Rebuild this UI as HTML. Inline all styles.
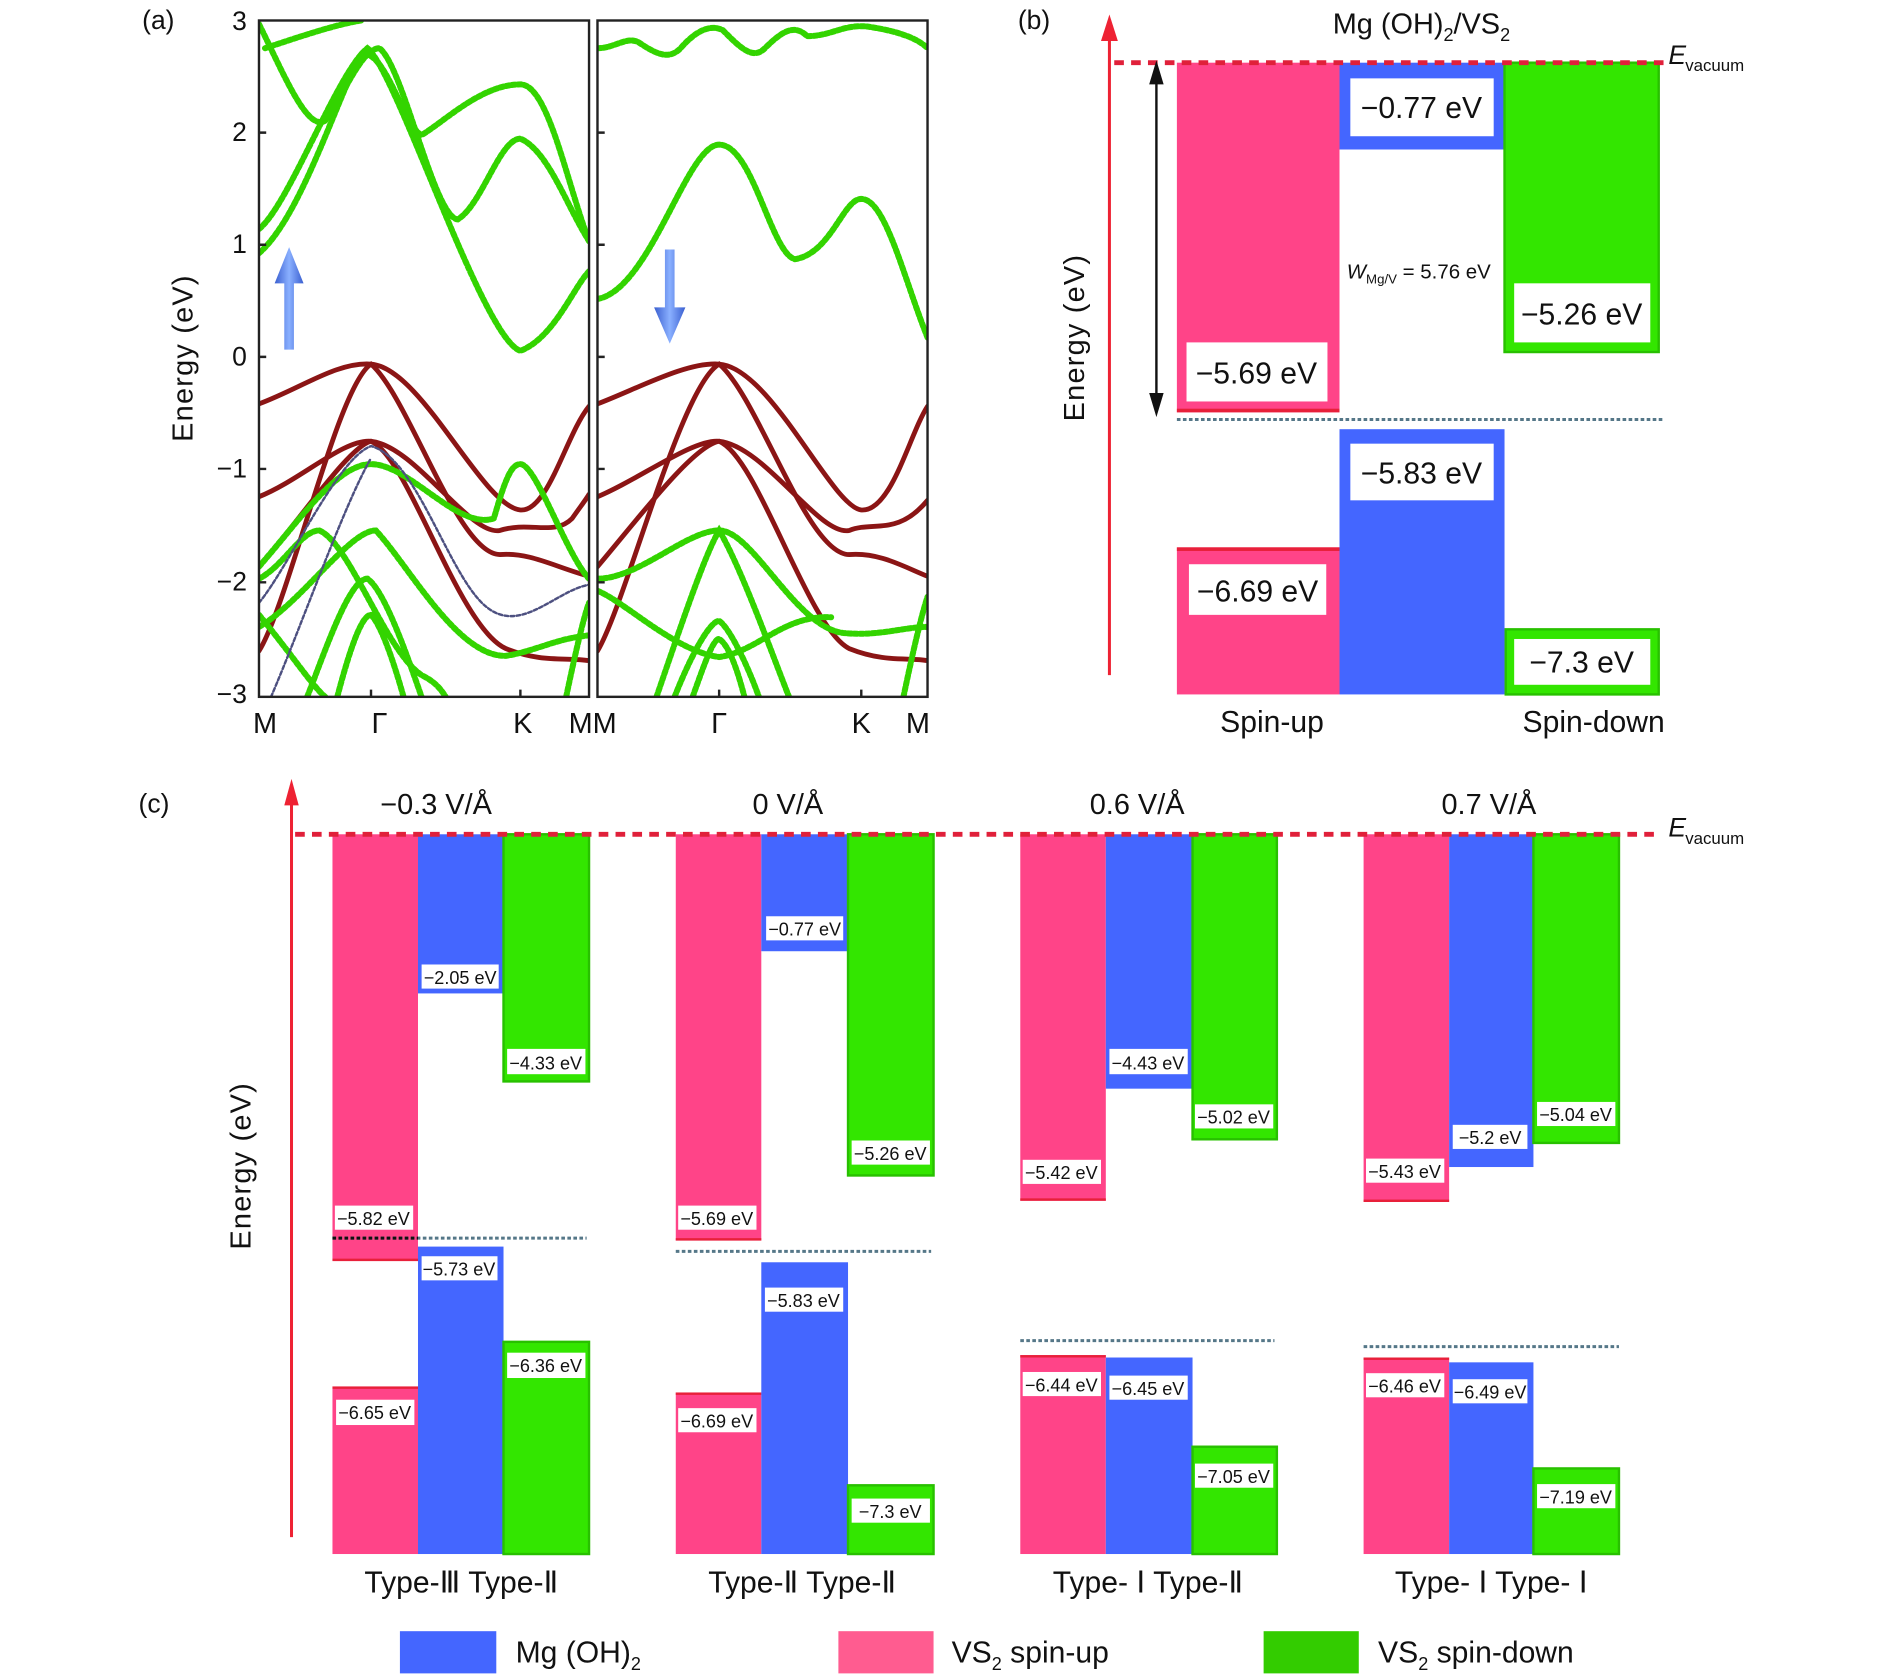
<!DOCTYPE html>
<html><head><meta charset="utf-8"><style>
html,body{margin:0;padding:0;background:#fff}
svg{display:block}
text{font-family:"Liberation Sans",sans-serif;fill:#111}
</style></head><body>
<svg width="1890" height="1677" viewBox="0 0 1569 1391" preserveAspectRatio="none" xmlns="http://www.w3.org/2000/svg">
<defs>
<clipPath id="cl"><rect x="215" y="17" width="274" height="561"/></clipPath>
<clipPath id="cr"><rect x="496" y="17" width="274" height="561"/></clipPath>
<linearGradient id="bg" x1="0" x2="1"><stop offset="0" stop-color="#3a5fd0"/><stop offset="0.5" stop-color="#8ab0ff"/><stop offset="1" stop-color="#3a5fd0"/></linearGradient>
</defs>

<!-- Panel (a) -->
<text x="118" y="24" font-size="22">(a)</text>
<g font-size="22" text-anchor="end">
<text x="205" y="25">3</text><text x="205" y="117">2</text><text x="205" y="210">1</text><text x="205" y="303">0</text>
<text x="205" y="396">−1</text><text x="205" y="490">−2</text><text x="205" y="583">−3</text>
</g>
<text transform="translate(160,297) rotate(-90)" font-size="24" text-anchor="middle" letter-spacing="1">Energy (eV)</text>
<g font-size="24" text-anchor="middle">
<text x="220" y="608">M</text><text x="315" y="608">Γ</text><text x="434" y="608">K</text><text x="492" y="608">MM</text>
<text x="597" y="608">Γ</text><text x="715" y="608">K</text><text x="762" y="608">M</text>
</g>
<g clip-path="url(#cl)" fill="none" stroke-linecap="round">
<g stroke="#8b1515" stroke-width="4">
<path d="M215,335 C250,322 280,300 308,302 C350,305 400,420 432,423 C455,425 470,360 489,337"/>
<path d="M215,412 C250,398 285,364 308,366 C345,370 390,445 415,440 C440,432 460,445 475,430 C482,420 486,415 489,410"/>
<path d="M215,540 C240,500 280,320 308,302 C340,330 380,460 415,460 C440,458 460,470 489,478"/>
<path d="M215,470 C250,430 290,370 308,366 C340,380 380,520 420,538 C450,550 470,545 489,548"/>
</g>
<g stroke="#33d400" stroke-width="5" stroke-dasharray="3 2">
<path d="M215,190 C240,170 280,60 305,40 C330,60 400,280 432,291 C460,280 475,240 489,225"/>
<path d="M215,210 C250,180 280,80 300,45 C320,40 335,105 350,112 C370,100 400,70 432,70 C455,70 470,150 489,200"/>
<path d="M215,20 C235,60 255,110 270,100 C285,80 300,40 315,40 C335,55 360,180 380,182 C400,170 415,115 432,115 C455,125 470,170 489,200"/>
<path d="M220,40 C250,30 280,20 300,17"/>
<path d="M215,470 C250,430 280,385 308,385 C340,385 380,440 410,430 C420,395 425,385 432,385 C445,385 470,460 489,480"/>
<path d="M215,480 C235,470 250,440 265,440 C290,450 320,540 350,560 C360,565 365,570 370,578"/>
<path d="M215,520 C250,500 290,440 312,440 C340,470 380,545 420,544 C445,540 460,530 489,527"/>
<path d="M215,510 C240,540 260,570 270,578"/>
<path d="M255,578 C270,540 290,480 305,480 C320,490 340,550 350,578"/>
<path d="M280,578 C290,540 300,510 308,510 C318,520 330,560 335,578"/>
<path d="M470,578 C478,540 485,510 489,500"/>
</g>
<g stroke="#4d5080" stroke-width="2" stroke-dasharray="3 2">
<path d="M215,500 C240,470 280,380 308,370 C345,380 370,470 400,500 C430,530 460,490 489,485"/>
<path d="M225,578 C250,520 285,420 308,380"/>
</g>
</g>
<g clip-path="url(#cr)" fill="none" stroke-linecap="round">
<g stroke="#8b1515" stroke-width="4">
<path d="M496,335 C530,322 570,300 597,302 C640,305 690,420 715,423 C740,425 755,360 770,337"/>
<path d="M496,412 C530,398 575,364 597,366 C635,370 680,445 705,440 C725,432 745,445 770,415"/>
<path d="M496,540 C520,500 565,320 597,302 C630,330 670,460 705,460 C730,458 750,470 770,478"/>
<path d="M496,470 C530,430 575,370 597,366 C630,380 670,520 705,538 C735,550 755,545 770,548"/>
</g>
<g stroke="#33d400" stroke-width="5" stroke-dasharray="3 2">
<path d="M496,248 C540,240 570,120 597,120 C625,120 640,210 660,215 C690,210 700,165 715,165 C735,165 750,230 770,280"/>
<path d="M496,40 C510,40 520,30 530,35 C545,45 555,50 565,40 C578,25 590,20 600,25 C615,40 625,50 635,40 C650,25 660,20 670,30 C690,30 700,20 720,22 C740,25 760,30 770,40"/>
<path d="M496,480 C530,480 570,440 597,440 C625,440 660,520 700,525 C730,528 750,520 770,520"/>
<path d="M496,490 C520,500 560,540 597,545 C630,540 650,510 690,512"/>
<path d="M545,578 C565,520 585,460 597,440 C615,470 640,540 655,578"/>
<path d="M560,578 C575,540 590,515 597,515 C605,520 620,550 630,578"/>
<path d="M575,578 C585,550 592,530 597,530 C605,535 612,555 618,578"/>
<path d="M750,578 C758,540 765,510 770,495"/>
</g>
</g>
<g fill="none" stroke="#222" stroke-width="2">
<rect x="215" y="17" width="274" height="561"/>
<rect x="496" y="17" width="274" height="561"/>
<path d="M215,110h6M215,203h6M215,296h6M215,389h6M215,483h6M496,110h6M496,203h6M496,296h6M496,389h6M496,483h6M308,578v-6M432,578v-6M597,578v-6M715,578v-6"/>
</g>
<path d="M236,290 V235 H228 L240,205 L252,235 H244 V290 Z" fill="url(#bg)"/>
<path d="M552,207 V255 H543 L556,285 L569,255 H560 V207 Z" fill="url(#bg)"/>

<!-- Panel (b) -->
<text x="845" y="24" font-size="22">(b)</text>
<text x="1180" y="28" font-size="24" text-anchor="middle">Mg (OH)<tspan font-size="15" dy="6">2</tspan><tspan dy="-6">/VS</tspan><tspan font-size="15" dy="6">2</tspan></text>
<line x1="921" y1="560" x2="921" y2="30" stroke="#ee2233" stroke-width="2.5"/>
<path d="M914,34 L921,12 L928,34 Z" fill="#ee2233"/>
<text transform="translate(900,280) rotate(-90)" font-size="24" text-anchor="middle" letter-spacing="1">Energy (eV)</text>
<rect x="977" y="52" width="135" height="290" fill="#ff4488"/>
<rect x="977" y="339" width="135" height="3" fill="#e8203a"/>
<rect x="1112" y="52" width="137" height="72" fill="#4466ff"/>
<rect x="1249" y="52" width="128" height="240" fill="#33e600" stroke="#28c000" stroke-width="2"/>
<rect x="977" y="454" width="135" height="122" fill="#ff4488"/>
<rect x="977" y="454" width="135" height="3" fill="#e8203a"/>
<rect x="1112" y="356" width="137" height="220" fill="#4466ff"/>
<rect x="1250" y="522" width="127" height="54" fill="#33e600" stroke="#28c000" stroke-width="2"/>
<line x1="925" y1="52" x2="1382" y2="52" stroke="#e0203a" stroke-width="4" stroke-dasharray="8 6"/>
<text x="1385" y="53" font-size="22" font-style="italic">E</text><text x="1399" y="59" font-size="14">vacuum</text>
<line x1="977" y1="348" x2="1382" y2="348" stroke="#557788" stroke-width="2.5" stroke-dasharray="3 2"/>
<line x1="960" y1="58" x2="960" y2="338" stroke="#111" stroke-width="2"/>
<path d="M954,70 L960,50 L966,70 Z M954,326 L960,346 L966,326 Z" fill="#111"/>
<text x="1118" y="231" font-size="17"><tspan font-style="italic">W</tspan><tspan font-size="11" dy="4">Mg/V</tspan><tspan dy="-4"> = 5.76 eV</tspan></text>
<g fill="#fff">
<rect x="1121" y="65" width="119" height="48"/><rect x="985" y="284" width="117" height="49"/>
<rect x="1257" y="235" width="113" height="49"/><rect x="1121" y="368" width="119" height="47"/>
<rect x="987" y="468" width="114" height="42"/><rect x="1257" y="530" width="113" height="38"/>
</g>
<g font-size="25" text-anchor="middle">
<text x="1180" y="98">−0.77 eV</text><text x="1043" y="318">−5.69 eV</text>
<text x="1313" y="269">−5.26 eV</text><text x="1180" y="401">−5.83 eV</text>
<text x="1044" y="499">−6.69 eV</text><text x="1313" y="558">−7.3 eV</text>
</g>
<g font-size="25" text-anchor="middle"><text x="1056" y="607">Spin-up</text><text x="1323" y="607">Spin-down</text></g>

<!-- Panel (c) -->
<text x="115" y="674" font-size="22">(c)</text>
<line x1="242" y1="1275" x2="242" y2="665" stroke="#ee2233" stroke-width="2.5"/>
<path d="M236,668 L242,646 L248,668 Z" fill="#ee2233"/>
<text transform="translate(208,967) rotate(-90)" font-size="24" text-anchor="middle" letter-spacing="1">Energy (eV)</text>
<g font-size="24" text-anchor="middle">
<text x="362" y="675">−0.3 V/Å</text><text x="654" y="675">0 V/Å</text><text x="944" y="675">0.6 V/Å</text><text x="1236" y="675">0.7 V/Å</text>
</g>
<g>
<rect x="276" y="692" width="71" height="354" fill="#ff4488"/><rect x="276" y="1044" width="71" height="2" fill="#e8203a"/>
<rect x="347" y="692" width="71" height="132" fill="#4466ff"/>
<rect x="418" y="692" width="71" height="205" fill="#33e600" stroke="#28c000" stroke-width="2"/>
<rect x="276" y="1150" width="71" height="139" fill="#ff4488"/><rect x="276" y="1150" width="71" height="2" fill="#e8203a"/>
<rect x="347" y="1034" width="71" height="255" fill="#4466ff"/>
<rect x="418" y="1113" width="71" height="176" fill="#33e600" stroke="#28c000" stroke-width="2"/>
<rect x="561" y="692" width="71" height="337" fill="#ff4488"/><rect x="561" y="1027" width="71" height="2" fill="#e8203a"/>
<rect x="632" y="692" width="72" height="97" fill="#4466ff"/>
<rect x="704" y="692" width="71" height="283" fill="#33e600" stroke="#28c000" stroke-width="2"/>
<rect x="561" y="1155" width="71" height="134" fill="#ff4488"/><rect x="561" y="1155" width="71" height="2" fill="#e8203a"/>
<rect x="632" y="1047" width="72" height="242" fill="#4466ff"/>
<rect x="704" y="1232" width="71" height="57" fill="#33e600" stroke="#28c000" stroke-width="2"/>
<rect x="847" y="692" width="71" height="304" fill="#ff4488"/><rect x="847" y="994" width="71" height="2" fill="#e8203a"/>
<rect x="918" y="692" width="72" height="211" fill="#4466ff"/>
<rect x="990" y="692" width="70" height="253" fill="#33e600" stroke="#28c000" stroke-width="2"/>
<rect x="847" y="1124" width="71" height="165" fill="#ff4488"/><rect x="847" y="1124" width="71" height="2" fill="#e8203a"/>
<rect x="918" y="1126" width="72" height="163" fill="#4466ff"/>
<rect x="990" y="1200" width="70" height="89" fill="#33e600" stroke="#28c000" stroke-width="2"/>
<rect x="1132" y="692" width="71" height="305" fill="#ff4488"/><rect x="1132" y="995" width="71" height="2" fill="#e8203a"/>
<rect x="1203" y="692" width="70" height="276" fill="#4466ff"/>
<rect x="1273" y="692" width="71" height="256" fill="#33e600" stroke="#28c000" stroke-width="2"/>
<rect x="1132" y="1126" width="71" height="163" fill="#ff4488"/><rect x="1132" y="1126" width="71" height="2" fill="#e8203a"/>
<rect x="1203" y="1130" width="70" height="159" fill="#4466ff"/>
<rect x="1273" y="1218" width="71" height="71" fill="#33e600" stroke="#28c000" stroke-width="2"/>
</g>
<line x1="245" y1="692" x2="1375" y2="692" stroke="#e0203a" stroke-width="4" stroke-dasharray="8 6"/>
<text x="1385" y="694" font-size="22" font-style="italic">E</text><text x="1399" y="700" font-size="14">vacuum</text>
<g stroke="#557788" stroke-width="2.5" stroke-dasharray="3 2">
<line x1="276" y1="1027" x2="487" y2="1027"/><line x1="561" y1="1038" x2="773" y2="1038"/>
<line x1="847" y1="1112" x2="1058" y2="1112"/><line x1="1132" y1="1117" x2="1344" y2="1117"/>
</g>
<line x1="276" y1="1027" x2="347" y2="1027" stroke="#111" stroke-width="2.5" stroke-dasharray="3 2"/>
<g fill="#fff">
<rect x="278" y="1000" width="65" height="20"/><rect x="350" y="800" width="64" height="20"/><rect x="421" y="870" width="65" height="21"/>
<rect x="350" y="1042" width="63" height="20"/><rect x="421" y="1122" width="65" height="21"/><rect x="279" y="1161" width="65" height="21"/>
<rect x="563" y="1000" width="65" height="20"/><rect x="636" y="760" width="64" height="20"/><rect x="707" y="946" width="65" height="20"/>
<rect x="635" y="1068" width="65" height="20"/><rect x="563" y="1168" width="65" height="20"/><rect x="707" y="1243" width="65" height="20"/>
<rect x="849" y="962" width="65" height="20"/><rect x="921" y="870" width="65" height="21"/><rect x="992" y="916" width="65" height="20"/>
<rect x="849" y="1138" width="65" height="20"/><rect x="921" y="1141" width="65" height="20"/><rect x="992" y="1214" width="65" height="20"/>
<rect x="1134" y="961" width="65" height="20"/><rect x="1206" y="933" width="62" height="20"/><rect x="1276" y="914" width="65" height="20"/>
<rect x="1134" y="1139" width="65" height="20"/><rect x="1206" y="1144" width="62" height="20"/><rect x="1276" y="1231" width="65" height="20"/>
</g>
<g font-size="15" text-anchor="middle">
<text x="310" y="1016">−5.82 eV</text><text x="382" y="816">−2.05 eV</text><text x="453" y="887">−4.33 eV</text>
<text x="381" y="1058">−5.73 eV</text><text x="453" y="1138">−6.36 eV</text><text x="311" y="1177">−6.65 eV</text>
<text x="595" y="1016">−5.69 eV</text><text x="668" y="776">−0.77 eV</text><text x="739" y="962">−5.26 eV</text>
<text x="667" y="1084">−5.83 eV</text><text x="595" y="1184">−6.69 eV</text><text x="739" y="1259">−7.3 eV</text>
<text x="881" y="978">−5.42 eV</text><text x="953" y="887">−4.43 eV</text><text x="1024" y="932">−5.02 eV</text>
<text x="881" y="1154">−6.44 eV</text><text x="953" y="1157">−6.45 eV</text><text x="1024" y="1230">−7.05 eV</text>
<text x="1166" y="977">−5.43 eV</text><text x="1237" y="949">−5.2 eV</text><text x="1308" y="930">−5.04 eV</text>
<text x="1166" y="1155">−6.46 eV</text><text x="1237" y="1160">−6.49 eV</text><text x="1308" y="1247">−7.19 eV</text>
</g>
<g font-size="25" text-anchor="middle">
<text x="383" y="1321">Type-Ⅲ  Type-Ⅱ</text><text x="666" y="1321">Type-Ⅱ Type-Ⅱ</text>
<text x="953" y="1321">Type- Ⅰ  Type-Ⅱ</text><text x="1238" y="1321">Type- Ⅰ Type- Ⅰ</text>
</g>
<rect x="332" y="1353" width="80" height="35" fill="#4466ff"/>
<rect x="696" y="1353" width="79" height="35" fill="#ff5c90"/>
<rect x="1049" y="1353" width="79" height="35" fill="#33cc00"/>
<g font-size="25">
<text x="428" y="1379">Mg (OH)<tspan font-size="15" dy="6">2</tspan></text>
<text x="790" y="1379">VS<tspan font-size="15" dy="6">2</tspan><tspan dy="-6"> spin-up</tspan></text>
<text x="1144" y="1379">VS<tspan font-size="15" dy="6">2</tspan><tspan dy="-6"> spin-down</tspan></text>
</g>
</svg>
</body></html>
